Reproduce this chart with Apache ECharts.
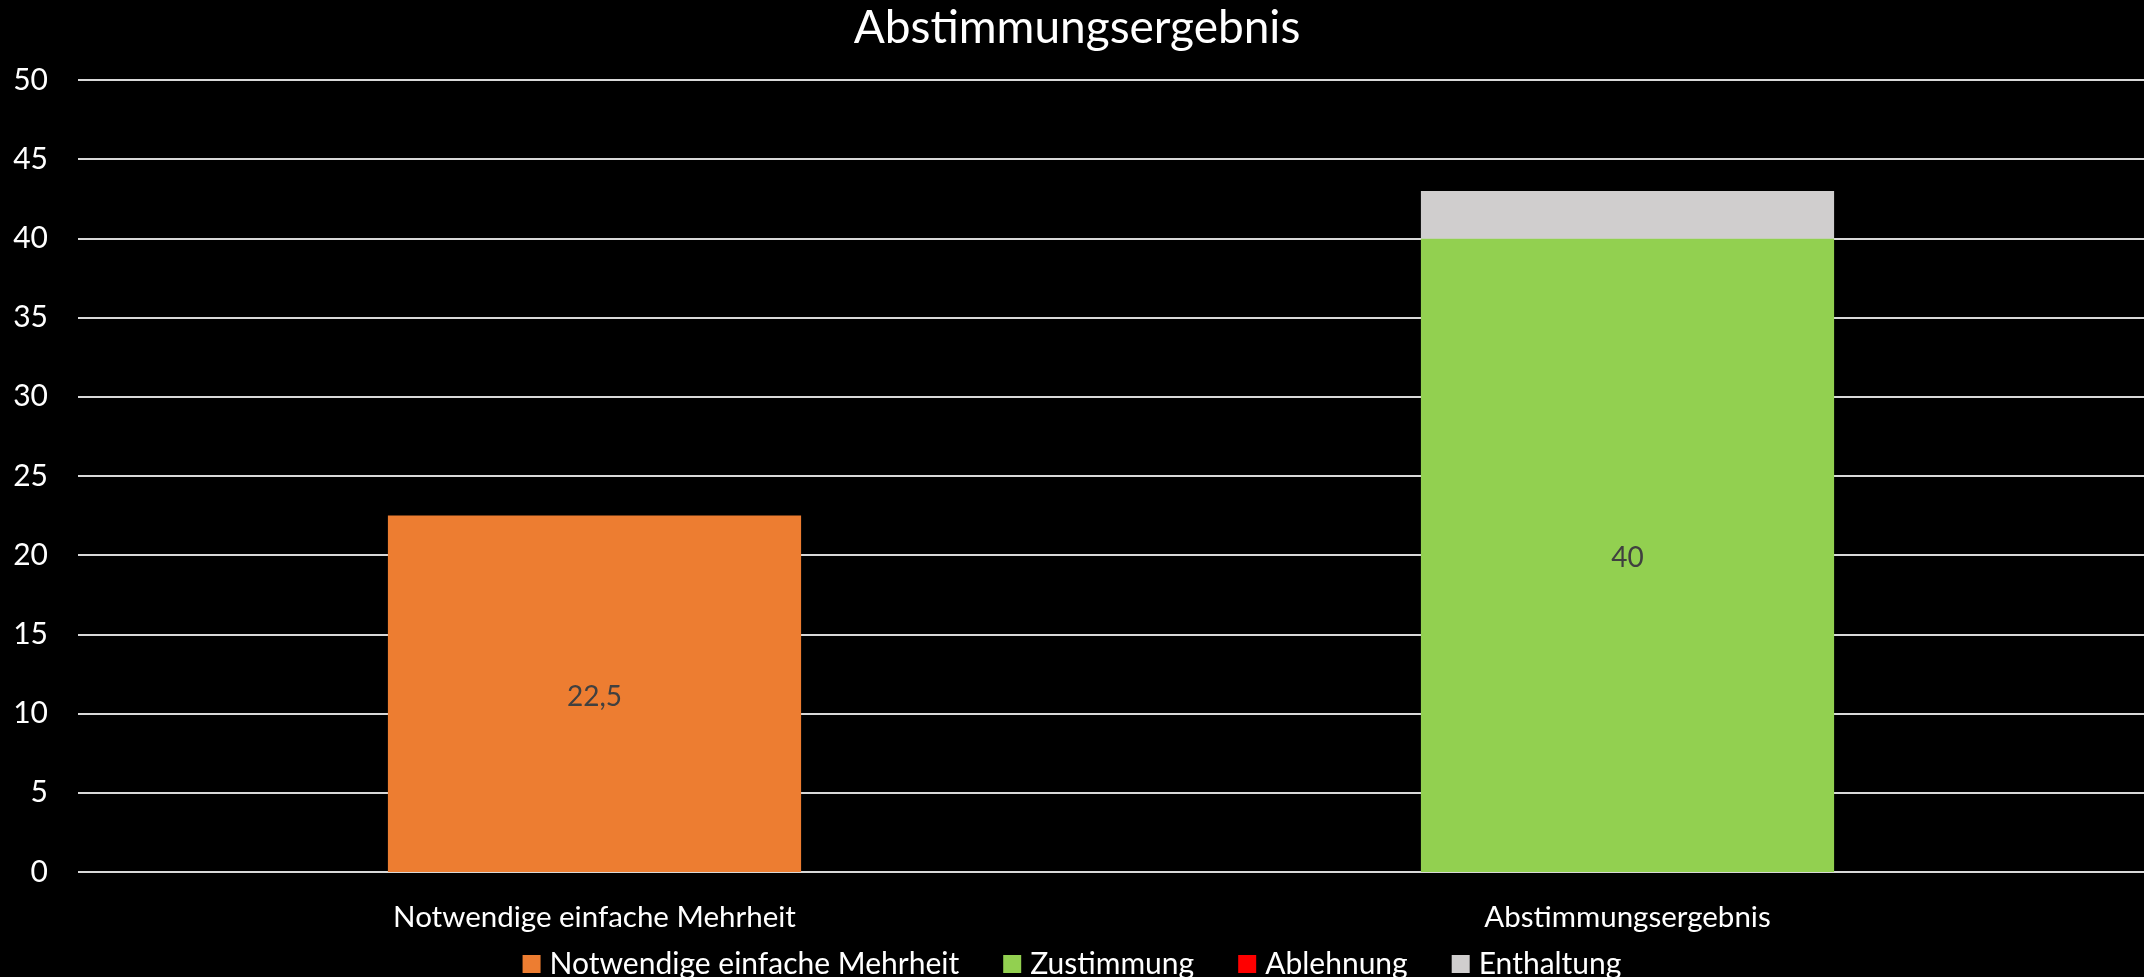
<!DOCTYPE html>
<html>
<head>
<meta charset="utf-8">
<script src="https://cdn.jsdelivr.net/npm/echarts@6/dist/echarts.min.js"></script>
<style>
  html, body { margin: 0; padding: 0; background: #000; }
  #chart { width: 2144px; height: 977px; }
</style>
</head>
<body>
<div id="chart"></div>
<script>
// Categories on the x axis
const categories = ['Notwendige einfache Mehrheit', 'Abstimmungsergebnis'];

// One stacked series per vote type; '-' leaves a category empty
const mehrheitValues    = [22.5, '-'];
const zustimmungValues  = ['-', 40];
const ablehnungValues   = ['-', 0];
const enthaltungValues  = ['-', 3];

// Y axis range
const yMin = 0, yMax = 50, yStep = 5;

const FONT = 'Lato';
const fmtDE = v => String(v).replace('.', ',');

const labelStyle = {
  show: true,
  position: 'inside',
  color: '#404040',
  fontFamily: FONT,
  fontSize: 28,
  offset: [0, 3],
  formatter: p => fmtDE(p.value)
};

const chart = echarts.init(document.getElementById('chart'), null, { renderer: 'canvas' });

chart.setOption({
  backgroundColor: '#000000',
  animation: false,
  title: {
    text: 'Abstimmungsergebnis',
    left: 1072,
    textAlign: 'center',
    top: 0,
    textStyle: { color: '#ffffff', fontFamily: FONT, fontWeight: 'normal', fontSize: 46 }
  },
  legend: {
    bottom: -7,
    left: 'center',
    icon: 'rect',
    itemWidth: 18,
    itemHeight: 18,
    itemGap: 44,
    textStyle: { color: '#ffffff', fontFamily: FONT, fontSize: 30, padding: [0, 0, 0, 4] },
    data: ['Notwendige einfache Mehrheit', 'Zustimmung', 'Ablehnung', 'Enthaltung']
  },
  grid: { left: 78, right: 0, top: 80, bottom: 105, containLabel: false },
  xAxis: {
    type: 'category',
    data: categories,
    axisLine: { show: false },
    axisTick: { show: false },
    axisLabel: { color: '#ffffff', fontFamily: FONT, fontSize: 29.5, margin: 30 }
  },
  yAxis: {
    type: 'value',
    min: yMin,
    max: yMax,
    interval: yStep,
    axisLine: { show: false },
    axisTick: { show: false },
    axisLabel: { color: '#ffffff', fontFamily: FONT, fontSize: 30, margin: 30 },
    splitLine: { lineStyle: { color: '#d9d9d9', width: 2 } }
  },
  series: [
    {
      name: 'Notwendige einfache Mehrheit', type: 'bar', stack: 'votes',
      barWidth: '40%', data: mehrheitValues,
      itemStyle: { color: '#ED7D31' }, label: labelStyle
    },
    {
      name: 'Zustimmung', type: 'bar', stack: 'votes',
      barWidth: '40%', data: zustimmungValues,
      itemStyle: { color: '#92D050' }, label: labelStyle
    },
    {
      name: 'Ablehnung', type: 'bar', stack: 'votes',
      barWidth: '40%', data: ablehnungValues,
      itemStyle: { color: '#FF0000' }
    },
    {
      name: 'Enthaltung', type: 'bar', stack: 'votes',
      barWidth: '40%', data: enthaltungValues,
      itemStyle: { color: '#D0CECE' }
    }
  ]
});
</script>
</body>
</html>
